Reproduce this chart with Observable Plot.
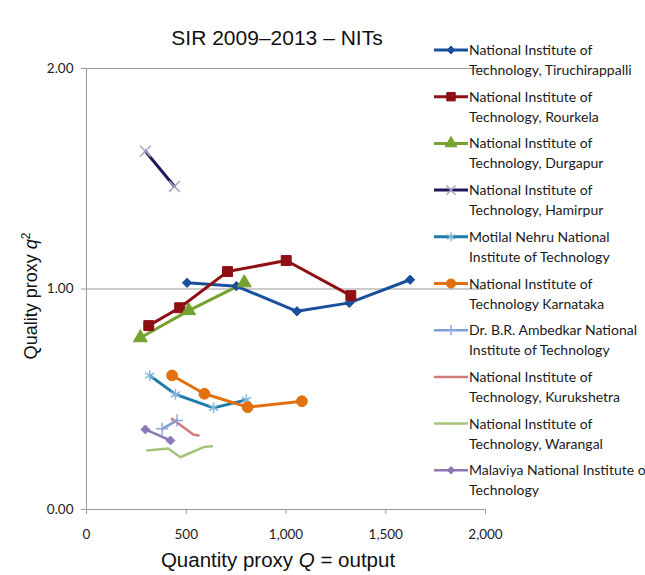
<!DOCTYPE html>
<html><head><meta charset="utf-8">
<script src="https://cdn.jsdelivr.net/npm/d3@7"></script>
<script src="https://cdn.jsdelivr.net/npm/@observablehq/plot@0.6"></script>
<style>
body{margin:0;background:#fff}
#chart{position:relative;width:645px;height:575px;background:#fff}
#chart svg{position:absolute;left:0;top:0}
</style>
</head><body><div id="chart"></div>
<script>
// ---- data ----
const names = [
  "Tiruchirappalli","Rourkela","Durgapur","Hamirpur","Motilal","Karnataka",
  "Ambedkar","Kurukshetra","Warangal","Malaviya"
];
const legendLine1 = [
  "National Institute of","National Institute of","National Institute of","National Institute of",
  "Motilal Nehru National","National Institute of","Dr. B.R. Ambedkar National",
  "National Institute of","National Institute of","Malaviya National Institute of"
];
const legendLine2 = [
  "Technology, Tiruchirappalli","Technology, Rourkela","Technology,  Durgapur","Technology, Hamirpur",
  "Institute of  Technology","Technology Karnataka","Institute of Technology",
  "Technology, Kurukshetra","Technology, Warangal","Technology"
];
const colors = ["#1B4F9C","#8E0F14","#76A22F","#201858","#1E7BAA","#E2700F","#7F9CD6","#D07C7A","#A3C47A","#8C78B4"];
const markerColors = ["#1B4F9C","#8E0F14","#76A22F","#A8A4C4","#86B8DA","#E2700F","#8FA8DC",null,null,"#8C78B4"];
const symbols = ["diamond2","square","triangle","times","asterisk","circle","plus",null,null,"diamond2"];
const markerR = [4.2,5.6,5.2,5,5,5.4,4,0,0,4];
const widths = [3,3,3,3,3,3,2.5,2.5,2.5,2.5];

const Q_Tiruchirappalli = [504, 751, 1055, 1317, 1622];
const q_Tiruchirappalli = [1.028, 1.013, 0.899, 0.937, 1.042];
const Q_Rourkela = [312, 467, 707, 1001, 1325];
const q_Rourkela = [0.834, 0.915, 1.079, 1.129, 0.970];
const Q_Durgapur = [270, 512, 791];
const q_Durgapur = [0.779, 0.902, 1.028];
const Q_Hamirpur = [295, 441];
const q_Hamirpur = [1.625, 1.465];
const Q_Motilal = [317, 446, 637, 801];
const q_Motilal = [0.608, 0.522, 0.461, 0.497];
const Q_Karnataka = [429, 591, 808, 1080];
const q_Karnataka = [0.608, 0.525, 0.464, 0.491];
const Q_Ambedkar = [379, 454];
const q_Ambedkar = [0.366, 0.404];
const Q_Kurukshetra = [429, 537, 562];
const q_Kurukshetra = [0.411, 0.339, 0.336];
const Q_Warangal = [304, 410, 470, 587, 629];
const q_Warangal = [0.268, 0.277, 0.237, 0.283, 0.287];
const Q_Malaviya = [295, 421];
const q_Malaviya = [0.363, 0.313];

const xTicks = [0, 500, 1000, 1500, 2000];
const yTicks = [0, 1, 2];

const Qs = [Q_Tiruchirappalli,Q_Rourkela,Q_Durgapur,Q_Hamirpur,Q_Motilal,Q_Karnataka,Q_Ambedkar,Q_Kurukshetra,Q_Warangal,Q_Malaviya];
const qs = [q_Tiruchirappalli,q_Rourkela,q_Durgapur,q_Hamirpur,q_Motilal,q_Karnataka,q_Ambedkar,q_Kurukshetra,q_Warangal,q_Malaviya];

const series = names.map((n, i) => ({
  name: n, i,
  rows: Qs[i].map((Q, j) => ({inst: n, Q, q: qs[i][j]}))
}));

const tickFont = "Lato, 'Open Sans', sans-serif";
const axisGray = "#9a9a9a";

const marks = [
  Plot.ruleY([1, 2], {stroke: axisGray, strokeWidth: 1}),
  Plot.ruleX([0], {y1: 0, y2: 2, stroke: axisGray}),
  Plot.ruleY([0], {x1: 0, x2: 2000, stroke: axisGray}),
  Plot.axisX({ticks: xTicks, tickFormat: d3.format(","), tickSize: 5, tickPadding: 15, stroke: axisGray, label: null, fontSize: 13.5}),
  Plot.axisY({ticks: yTicks, tickFormat: d3.format(".2f"), tickSize: 5, tickPadding: 8, stroke: axisGray, label: null, fontSize: 13.5})
];
series.forEach(s => {
  const i = s.i;
  marks.push(Plot.line(s.rows, {x: "Q", y: "q", stroke: colors[i], strokeWidth: widths[i], curve: "linear"}));
});
series.forEach(s => {
  const i = s.i;
  if (symbols[i]) {
    const hollow = symbols[i] === "times" || symbols[i] === "asterisk" || symbols[i] === "plus";
    marks.push(Plot.dot(s.rows, {
      x: "Q", y: "q", symbol: () => symbols[i], r: markerR[i],
      fill: hollow ? "none" : markerColors[i],
      stroke: markerColors[i], strokeWidth: hollow ? 1.5 : 1
    }));
  }
});

const plot = Plot.plot({
  width: 645, height: 575,
  marginLeft: 86, marginRight: 160, marginTop: 68, marginBottom: 66,
  x: {domain: [0, 2000]},
  y: {domain: [0, 2]},
  symbol: {type: "identity"},
  style: {fontFamily: tickFont, fontSize: "13.5px", color: "#222", background: "transparent"},
  marks
});
document.getElementById("chart").appendChild(plot);

// ---- titles and legend (real text) ----
const svg = d3.select("#chart").append("svg")
  .attr("width", 645).attr("height", 575).style("pointer-events", "none");

svg.append("text").attr("x", 277).attr("y", 45).attr("text-anchor", "middle")
  .style("font-family", "'Liberation Sans', Arial, sans-serif").style("font-size", "21px").style("fill", "#111")
  .text("SIR 2009–2013 – NITs");

const xl = svg.append("text").attr("x", 278).attr("y", 567).attr("text-anchor", "middle")
  .style("font-family", "'Liberation Sans', Arial, sans-serif").style("font-size", "20.5px").style("fill", "#111");
xl.append("tspan").text("Quantity proxy ");
xl.append("tspan").style("font-style", "italic").text("Q");
xl.append("tspan").text(" = output");

const yl = svg.append("text").attr("transform", "translate(37,296) rotate(-90)").attr("text-anchor", "middle")
  .style("font-family", "'Liberation Sans', Arial, sans-serif").style("font-size", "18px").style("fill", "#111");
yl.append("tspan").text("Quality proxy ");
yl.append("tspan").style("font-style", "italic").text("q");
yl.append("tspan").attr("dy", "-7").style("font-size", "12px").text("2");

const legendY0 = 50, legendStep = 46.7;
const symMap = {diamond2: d3.symbolDiamond2, square: d3.symbolSquare, triangle: d3.symbolTriangle,
  times: d3.symbolTimes, asterisk: d3.symbolAsterisk, circle: d3.symbolCircle, plus: d3.symbolPlus};
names.forEach((n, i) => {
  const y = legendY0 + i * legendStep;
  const g = svg.append("g");
  g.append("line").attr("x1", 434).attr("x2", 468).attr("y1", y).attr("y2", y)
    .attr("stroke", colors[i]).attr("stroke-width", widths[i]);
  if (symbols[i]) {
    const hollow = ["times","asterisk","plus"].includes(symbols[i]);
    const r = markerR[i] * 0.85;
    g.append("path").attr("transform", `translate(451,${y})`)
      .attr("d", d3.symbol(symMap[symbols[i]], Math.PI * r * r)())
      .attr("fill", hollow ? "none" : markerColors[i])
      .attr("stroke", markerColors[i]).attr("stroke-width", hollow ? 1.5 : 1);
  }
  const t = g.append("text").style("font-family", tickFont).style("font-size", "14px").style("fill", "#1a1a1a");
  t.append("tspan").attr("x", 469).attr("y", y + 5).text(legendLine1[i]);
  t.append("tspan").attr("x", 469).attr("y", y + 25).text(legendLine2[i]);
});
</script>
</body></html>
